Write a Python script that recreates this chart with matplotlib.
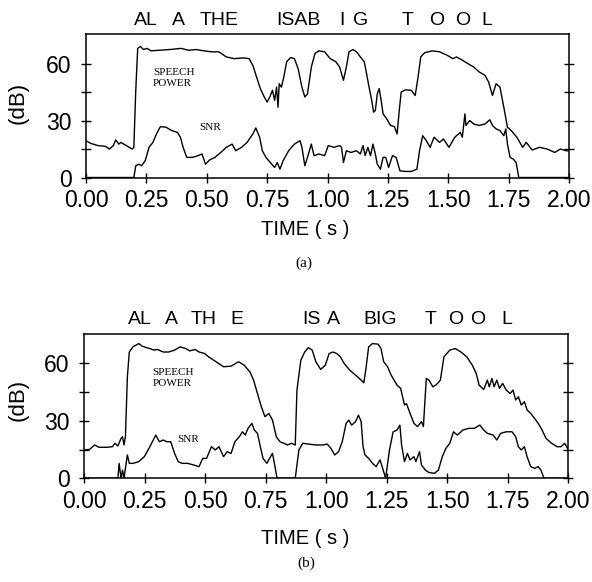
import matplotlib
matplotlib.use("Agg")
import matplotlib.pyplot as plt
from matplotlib.ticker import FixedLocator

# (a) speech power and SNR, dB against time
t_power_a = [0, .019, .05, .081, .097, .113, .123, .136, .144, .167,
             .191, .198, .206, .214, .225, .238, .253, .269, .3, .347,
             .394, .425, .456, .488, .519, .55, .581, .613, .652, .675,
             .691, .706, .722, .738, .75, .761, .772, .781, .789, .795,
             .8, .809, .819, .831, .847, .863, .878, .894, .906, .917,
             .933, .948, .964, .988, 1.011, 1.034, 1.05, 1.066, 1.078, 1.089,
             1.105, 1.12, 1.136, 1.152, 1.159, 1.172, 1.183, 1.191, 1.198, 1.206,
             1.214, 1.222, 1.23, 1.245, 1.261, 1.277, 1.288, 1.297, 1.305, 1.323,
             1.347, 1.363, 1.375, 1.386, 1.402, 1.433, 1.464, 1.495, 1.519, 1.534,
             1.558, 1.581, 1.605, 1.628, 1.652, 1.667, 1.683, 1.698, 1.714, 1.73,
             1.745, 1.761, 1.784, 1.808, 1.823, 1.847, 1.878, 1.909, 1.941, 1.964,
             1.988, 2.0]
power_a = [19.4, 18, 16.8, 16.4, 15, 16.8, 19.8, 17.6, 18.5, 16.8,
           15, 15.9, 46, 68, 69, 67.4, 68, 66.7, 67, 67.4,
           68, 67, 67.4, 66.7, 66.2, 66.2, 63.5, 62.6, 63, 62.6,
           59, 53, 46.8, 42.4, 39.7, 42.4, 46, 40.6, 47.6, 37,
           49.4, 47.6, 53, 61, 63.2, 62.6, 57.4, 47.6, 42.4, 44,
           58.2, 65.3, 66.7, 66.2, 62.6, 61, 58.2, 51.2, 58.2, 66.2,
           67.4, 66.2, 63.5, 61, 56.5, 47.6, 40.6, 34.4, 35.3, 44,
           46.8, 40.6, 33.5, 30.9, 27.4, 26.8, 22.9, 35.3, 45, 46.2,
           45.9, 43.2, 53, 63.5, 65.7, 66.7, 66.2, 64.4, 62.6, 63.5,
           61.8, 60, 58.2, 55.6, 53.8, 50.3, 43.2, 49.4, 47.6, 37,
           26.5, 24.7, 21.2, 15.9, 18.5, 14.5, 15.9, 15, 13.2, 15,
           14.1, 14.1]

t_snr_a = [0, .198, .206, .219, .230, .245, .261, .277, .292, .308,
           .331, .355, .378, .391, .402, .417, .441, .464, .480, .495,
           .511, .534, .558, .581, .605, .620, .644, .667, .691, .703,
           .719, .730, .745, .769, .781, .792, .803, .816, .839, .863,
           .886, .894, .906, .917, .933, .944, .964, .988, 1.003, 1.027,
           1.05, 1.058, 1.066, 1.078, 1.097, 1.12, 1.136, 1.147, 1.156, 1.167,
           1.178, 1.188, 1.198, 1.206, 1.219, 1.230, 1.241, 1.253, 1.269, 1.284,
           1.3, 1.323, 1.347, 1.370, 1.381, 1.394, 1.409, 1.425, 1.441, 1.464,
           1.480, 1.503, 1.527, 1.55, 1.558, 1.569, 1.573, 1.589, 1.605, 1.628,
           1.652, 1.672, 1.683, 1.698, 1.714, 1.730, 1.738, 1.745, 1.756, 1.769,
           1.781, 1.792, 2.0]
snr_a = [0, 0, 6.2, 7, 6.2, 8.8, 15.9, 18.5, 23, 26.8,
         26.5, 24.7, 23.8, 21.2, 15.9, 10.6, 10.6, 11.5, 12.4, 7,
         9.2, 10.6, 13.2, 15.9, 17.6, 14.1, 15.9, 18.5, 23, 26.1,
         21.2, 14.1, 10.6, 7, 5.3, 7.9, 4.4, 8.8, 14.1, 17.6,
         19.4, 15.9, 6.2, 10.6, 17.6, 11.5, 12.4, 11.5, 16.8, 15.9,
         16.8, 15.9, 7.9, 14.1, 13.2, 14.1, 12.4, 16.8, 11.5, 15.9,
         11.5, 17.6, 12.4, 7, 4.4, 10.6, 10.6, 5.3, 11.5, 10.6,
         3.5, 3.2, 3.2, 4.4, 14.1, 22, 19.4, 15.9, 21.2, 18.5,
         20.3, 15.9, 21.2, 23.8, 21.2, 33.5, 27.4, 30, 28.2, 27.4,
         28.2, 30.4, 27.4, 25.6, 24.7, 22, 25.6, 17.6, 10.6, 9.7,
         7.9, 0, 0]

# (b)
t_power_b = [0, .023, .044, .062, .093, .117, .128, .140, .153, .159,
             .165, .171, .179, .187, .202, .226, .241, .257, .272, .288,
             .304, .327, .350, .374, .397, .420, .436, .459, .475, .498,
             .514, .545, .576, .607, .638, .661, .685, .700, .716, .732,
             .747, .763, .778, .794, .809, .825, .840, .856, .872, .879,
             .895, .911, .926, .942, .957, .977, .996, 1.012, 1.027, 1.043,
             1.058, 1.074, 1.097, 1.121, 1.144, 1.155, 1.164, 1.175, 1.191, 1.214,
             1.226, 1.237, 1.253, 1.268, 1.292, 1.307, 1.323, 1.331, 1.346, 1.362,
             1.377, 1.393, 1.401, 1.413, 1.424, 1.440, 1.455, 1.471, 1.486, 1.510,
             1.533, 1.556, 1.580, 1.603, 1.619, 1.631, 1.650, 1.665, 1.673, 1.684,
             1.693, 1.704, 1.715, 1.728, 1.743, 1.759, 1.771, 1.782, 1.793, 1.805,
             1.818, 1.829, 1.844, 1.860, 1.875, 1.891, 1.907, 1.930, 1.953, 1.969,
             1.984, 2.0]
power_b = [14.8, 15.1, 17.4, 16.2, 16.2, 16.5, 18.3, 16.9, 20.9, 21.7,
           17.4, 21.7, 53, 66, 68.7, 70.4, 69, 68.3, 67.8, 67,
           67.3, 66, 66, 67, 68.7, 67.8, 66.6, 67.3, 66, 65.2,
           63.5, 60.9, 58.3, 58.6, 60.9, 59.1, 55.6, 51.3, 44.3, 37.4,
           32.2, 33.9, 30.4, 21.7, 19.1, 18.3, 17.4, 18.3, 17.4, 46,
           61.7, 66, 68.3, 67, 60.9, 56.9, 59.1, 65.2, 66, 65.2,
           63.5, 60, 56.5, 53.9, 51.3, 49.9, 57.4, 68.7, 70.4, 70.1,
           67.8, 60.9, 58.3, 53.9, 48.7, 47, 38.3, 39.1, 33.9, 28.7,
           27, 29.6, 27, 52.2, 51.3, 47.8, 49, 51.3, 63.5, 67,
           67.8, 66, 63.5, 59.1, 54.8, 48.7, 46.4, 51.3, 47.8, 52.2,
           47.8, 51.3, 47, 49.6, 46.1, 44.3, 46.1, 40.9, 42.6, 38.3,
           40, 35.7, 33.9, 31.3, 28.7, 25.2, 20.9, 18.3, 16.5, 16.5,
           18.3, 14.8]

t_snr_b = [0, .140, .145, .153, .159, .165, .179, .187, .202, .226,
           .249, .272, .296, .311, .327, .342, .358, .374, .389, .405,
           .428, .451, .475, .490, .506, .526, .542, .557, .576, .591,
           .607, .623, .641, .654, .666, .677, .693, .703, .716, .728,
           .739, .755, .766, .778, .786, .797, .872, .887, .903, .926,
           .957, .988, 1.004, 1.019, 1.035, 1.051, 1.066, 1.082, 1.093, 1.105,
           1.121, 1.133, 1.144, 1.152, 1.160, 1.175, 1.191, 1.206, 1.222, 1.233,
           1.245, 1.261, 1.276, 1.292, 1.304, 1.311, 1.323, 1.335, 1.346, 1.362,
           1.370, 1.385, 1.393, 1.409, 1.424, 1.447, 1.463, 1.479, 1.494, 1.510,
           1.525, 1.541, 1.564, 1.588, 1.611, 1.634, 1.650, 1.665, 1.689, 1.704,
           1.720, 1.743, 1.767, 1.782, 1.793, 1.805, 1.818, 1.829, 1.844, 1.860,
           1.875, 1.886, 1.899, 2.0]
snr_b = [0, 0, 7.8, 0, 4.3, 0, 12.2, 7.8, 7.8, 8.7,
         11.3, 16.5, 22.6, 19.1, 20, 19.1, 19.1, 13, 8.7, 7.8,
         7.8, 7, 6.1, 10.4, 10.4, 16.5, 14.8, 16.5, 11.3, 13.9,
         13, 19.1, 21.7, 24.3, 22.6, 26.1, 28.7, 25.2, 23.5, 16.5,
         10.4, 7.8, 10.4, 13, 7.8, 0, 0, 14.8, 18.3, 17.9,
         17.4, 17.4, 17.9, 15.7, 12.2, 13.9, 19.1, 28.7, 30.4, 27.8,
         29.6, 33, 29.6, 16.5, 12.2, 10.4, 7.8, 6.1, 9.6, 5.2,
         0, 14.8, 24.3, 25.2, 27.8, 17.4, 8.7, 13, 9.6, 11.3,
         8.7, 13.9, 7, 4.3, 3, 2.6, 4.3, 11.3, 15.7, 18.3,
         24.3, 22.6, 25.2, 26.1, 26.1, 27.8, 25.2, 23.5, 22.6, 20,
         23.5, 24.3, 24.3, 21.7, 16.5, 14.8, 16.5, 11.3, 6.1, 5.2,
         6.1, 4.3, 0, 0]

# words of the utterance and where they sit in time
words_a = ["AL", "A", "THE", "ISAB", "I", "G", "T", "O", "O", "L"]
word_t_a = [0.247, 0.381, 0.55, 0.881, 1.058, 1.136, 1.331, 1.452, 1.561, 1.659]
words_b = ["AL", "A", "TH", "E", "IS", "A", "BIG", "T", "O", "O", "L"]
word_t_b = [0.229, 0.361, 0.493, 0.630, 0.937, 1.030, 1.222, 1.432, 1.533, 1.626, 1.746]

x_ticks = [0, 0.25, 0.5, 0.75, 1.0, 1.25, 1.5, 1.75, 2.0]
x_labels = ["0.00", "0.25", "0.50", "0.75", "1.00", "1.25", "1.50", "1.75", "2.00"]

SANS = "Liberation Sans"
SERIF = "Liberation Serif"

fig = plt.figure(figsize=(5.92, 5.82), dpi=100)
ax_a = fig.add_axes([0.1453, 0.695, 0.8159, 0.246])
ax_b = fig.add_axes([0.1419, 0.1782, 0.8184, 0.2479])


def style(ax, words, word_t, sp_xy, snr_xy):
    ax.set_xlim(0, 2)
    ax.set_ylim(0, 75.4)
    for s in ax.spines.values():
        s.set_linewidth(1.1)
    ax.set_xticks(x_ticks)
    ax.set_xticklabels(x_labels, fontfamily=SANS, fontsize=16.5)
    ax.yaxis.set_major_locator(FixedLocator([0, 30, 60]))
    ax.yaxis.set_minor_locator(FixedLocator([15, 45]))
    ax.set_yticklabels(["0", "30", "60"], fontfamily=SANS, fontsize=16.5)
    ax.tick_params(axis="x", direction="inout", length=7, width=1, pad=5)
    ax.tick_params(axis="y", which="both", direction="inout", length=7,
                   width=1, pad=7, right=True)
    for w, t in zip(words, word_t):
        ax.text(t, 1.1, w, transform=ax.get_xaxis_transform(), ha="center",
                va="center", fontfamily=SANS, fontsize=14)
    ax.text(sp_xy[0], sp_xy[1], "SPEECH\nPOWER", fontfamily=SERIF, fontsize=8,
            ha="left", va="center", linespacing=1.3)
    ax.text(snr_xy[0], snr_xy[1], "SNR", fontfamily=SERIF, fontsize=8,
            ha="left", va="center")


ax_a.plot(t_power_a, power_a, color="black", lw=1.0)
ax_a.plot(t_snr_a, snr_a, color="black", lw=1.0)
style(ax_a, words_a, word_t_a, (0.277, 52.2), (0.467, 26.5))

ax_b.plot(t_power_b, power_b, color="black", lw=1.0)
ax_b.plot(t_snr_b, snr_b, color="black", lw=1.0)
style(ax_b, words_b, word_t_b, (0.283, 52.6), (0.383, 20.2))

# axis titles and panel captions
for y in (1 - 103 / 582, 1 - 400 / 582):
    fig.text(18.5 / 592, y, "(dB)", rotation=90, ha="center", va="center",
             fontfamily=SANS, fontsize=16)
for y in (1 - 230 / 582, 1 - 538 / 582):
    fig.text(305 / 592, y, "TIME ( s )", ha="center", va="center",
             fontfamily=SANS, fontsize=14.5)
fig.text(304 / 592, 1 - 263 / 582, "(a)", ha="center", va="center",
         fontfamily=SERIF, fontsize=11)
fig.text(306 / 592, 1 - 563 / 582, "(b)", ha="center", va="center",
         fontfamily=SERIF, fontsize=11)

fig.savefig("out.png", dpi=100)
